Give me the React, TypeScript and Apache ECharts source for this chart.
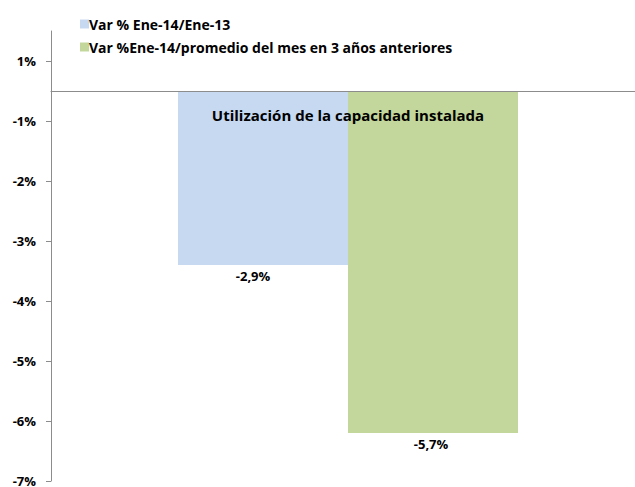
import React, { useEffect, useRef } from "react";
import * as echarts from "echarts";

const categories = ["Utilización de la capacidad instalada"];
const seriesNames = [
  "Var % Ene-14/Ene-13",
  "Var %Ene-14/promedio del mes en 3 años anteriores",
];
const varInteranual = [-2.9];
const varPromedio = [-5.7];
const yTickValues = [0.5, -0.5, -1.5, -2.5, -3.5, -4.5, -5.5, -6.5];
const yMin = -6.5;
const yMax = 1;

const FONT = "Open Sans";
const GRID_TOP = 31;
const GRID_HEIGHT = 450;

const fmtAxis = (v: number) => (v < 0 ? "-" : "") + Math.round(Math.abs(v)) + "%";
const fmtLabel = (v: number) => v.toFixed(1).replace(".", ",") + "%";

export default function App() {
  const ref = useRef<HTMLDivElement>(null);
  useEffect(() => {
    document.body.style.margin = "0";
    const chart = echarts.init(ref.current!, null, { renderer: "svg" });
    // category axis sits on the zero line: offset from grid top by zero's position
    const zeroOffset = -((yMax - 0) / (yMax - yMin)) * GRID_HEIGHT;
    chart.setOption({
      animation: false,
      textStyle: { fontFamily: FONT },
      legend: {
        orient: "vertical",
        left: 75,
        top: 12,
        itemWidth: 9,
        itemHeight: 9,
        itemGap: 9,
        icon: "rect",
        textStyle: { fontFamily: FONT, fontWeight: "bold", fontSize: 14, color: "#000", padding: [0, 0, 0, -5] },
        data: seriesNames,
      },
      grid: { left: 51, top: GRID_TOP, width: 594, height: GRID_HEIGHT, containLabel: false, outerBoundsMode: "none" },
      xAxis: {
        type: "category",
        position: "top",
        offset: zeroOffset,
        z: 10,
        data: categories,
        axisLine: { onZero: false, lineStyle: { color: "#8c8c8c", width: 1 } },
        axisTick: { show: false },
        axisLabel: { inside: true, margin: 16, fontFamily: FONT, fontWeight: "bold", fontSize: 15, color: "#000" },
      },
      yAxis: {
        type: "value",
        min: yMin,
        max: yMax,
        splitLine: { show: false },
        axisLine: { show: true, lineStyle: { color: "#8c8c8c", width: 1 } },
        axisTick: { show: true, length: 5, customValues: yTickValues, lineStyle: { color: "#8c8c8c" } },
        axisLabel: {
          customValues: yTickValues,
          formatter: fmtAxis,
          margin: 15,
          fontFamily: FONT,
          fontWeight: "bold",
          fontSize: 13,
          color: "#000",
        },
      },
      series: [
        {
          name: seriesNames[0],
          type: "bar",
          data: varInteranual,
          barWidth: 170,
          barGap: "0%",
          itemStyle: { color: "#C6D9F1" },
          label: {
            show: true,
            position: "bottom",
            distance: 4,
            offset: [-10, 0],
            formatter: (p: any) => fmtLabel(p.value),
            fontFamily: FONT,
            fontWeight: "bold",
            fontSize: 13,
            color: "#000",
          },
        },
        {
          name: seriesNames[1],
          type: "bar",
          data: varPromedio,
          barWidth: 170,
          barGap: "0%",
          itemStyle: { color: "#C3D69B" },
          label: {
            show: true,
            position: "bottom",
            distance: 4,
            offset: [-2, 0],
            formatter: (p: any) => fmtLabel(p.value),
            fontFamily: FONT,
            fontWeight: "bold",
            fontSize: 13,
            color: "#000",
          },
        },
      ],
    });
    return () => chart.dispose();
  }, []);
  return <div ref={ref} style={{ width: 635, height: 487 }} />;
}
